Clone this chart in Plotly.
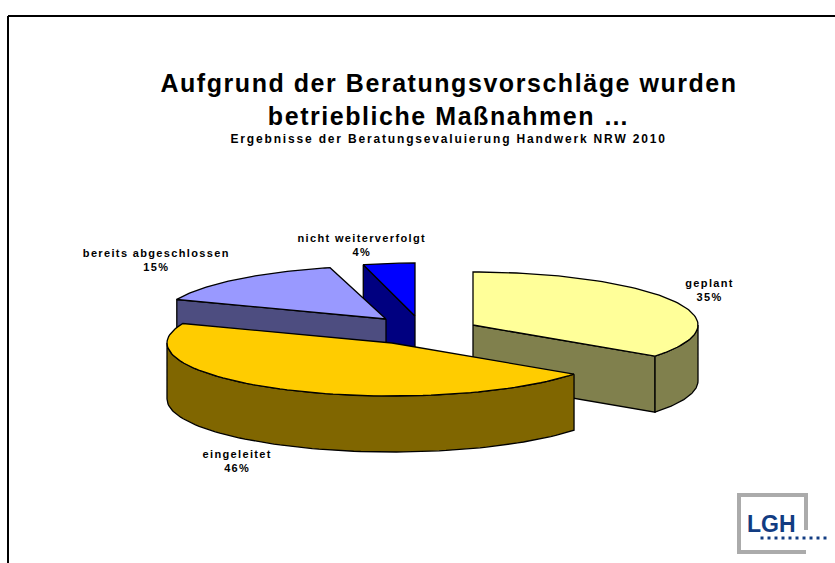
import numpy as np
import plotly.graph_objects as go

categories = ["geplant", "eingeleitet", "bereits abgeschlossen", "nicht weiterverfolgt"]
shares = [35, 46, 15, 4]
top_colors = ["#FFFF99", "#FFCC00", "#9999FF", "#0000FF"]
side_colors = ["#80804D", "#806600", "#4D4D80", "#000080"]

# Projection of the tilted pie onto the canvas (axis units equal pixels)
RX, RY, DEPTH = 225, 53, 56
centers = {0: (473, 325), 1: (392, 343), 2: (386, 319), 3: (415, 316)}
label_pos = {0: (709, 289.5), 1: (237.5, 460.5), 2: (156.5, 260), 3: (362, 245)}

cum = np.concatenate([[0], np.cumsum(shares)]) / sum(shares) * 2 * np.pi


def pt(i, a, dz=0, rx=RX):
    cx, cy = centers[i]
    return cx + rx * np.sin(a), cy - RY * np.cos(a) + dz


def arc(i, a0, a1, dz=0, rx=RX):
    t = np.linspace(a0, a1, 80)
    return pt(i, t, dz, rx)


def poly(xs, ys, color, name):
    return go.Scatter(
        x=list(xs), y=list(ys), mode="lines", fill="toself", fillcolor=color,
        line=dict(color="black", width=1.3), name=name, hoverinfo="name", showlegend=False,
    )


def top_face(i, rx=RX):
    ax, ay = arc(i, cum[i], cum[i + 1], rx=rx)
    cx, cy = centers[i]
    return poly(np.r_[cx, ax, cx], np.r_[cy, ay, cy], top_colors[i], categories[i])


def outer_side(i, a0, a1):
    x0, y0 = arc(i, a0, a1)
    x1, y1 = arc(i, a1, a0, DEPTH)
    return poly(np.r_[x0, x1, x0[0]], np.r_[y0, y1, y0[0]], side_colors[i], categories[i])


def cut_face(i, a, rx=RX):
    cx, cy = centers[i]
    ex, ey = pt(i, a, rx=rx)
    return poly([cx, ex, ex, cx, cx], [cy, ey, ey + DEPTH, cy + DEPTH, cy], side_colors[i], categories[i])


fig = go.Figure()
# painter's order: back to front
fig.add_trace(cut_face(0, cum[1]))
fig.add_trace(outer_side(0, np.pi / 2, cum[1]))
fig.add_trace(top_face(0))
fig.add_trace(cut_face(3, cum[3], rx=208))
fig.add_trace(top_face(3, rx=208))
fig.add_trace(cut_face(2, cum[2]))
fig.add_trace(top_face(2))
fig.add_trace(outer_side(1, cum[1], 3 * np.pi / 2))
fig.add_trace(top_face(1))

# LGH logo dots
fig.add_trace(go.Scatter(
    x=np.linspace(762, 825, 10), y=[538] * 10, mode="markers",
    marker=dict(symbol="square", size=3, color="#123C82"), hoverinfo="skip", showlegend=False,
))

annotations = []
for i, c in enumerate(categories):
    annotations.append(dict(
        x=label_pos[i][0], y=label_pos[i][1], text=f"{c}<br>{shares[i]}%", showarrow=False,
        xanchor="center", yanchor="middle",
        font=dict(family="Liberation Sans", size=11, color="black", weight="bold"),
    ))
annotations.append(dict(
    x=449, y=139, text="Ergebnisse der Beratungsevaluierung Handwerk NRW 2010", showarrow=False,
    xanchor="center", yanchor="middle",
    font=dict(family="Liberation Sans", size=12, color="black", weight="bold"),
))
annotations.append(dict(
    x=771, y=524, text="<b>LGH</b>", showarrow=False, xanchor="center", yanchor="middle",
    font=dict(family="Liberation Sans", size=23, color="#123C82"),
))

shapes = [
    dict(type="line", x0=8, x1=835, y0=16, y1=16, line=dict(color="black", width=2)),
    dict(type="line", x0=8, x1=8, y0=16, y1=563, line=dict(color="black", width=2)),
    dict(type="path", path="M 806 530 L 806 495 L 739 495 L 739 552 L 806 552",
         line=dict(color="#ABABAB", width=4)),
]

fig.update_layout(
    width=835, height=563, margin=dict(l=0, r=0, t=0, b=0),
    paper_bgcolor="white", plot_bgcolor="white", showlegend=False,
    title=dict(
        text="<b>Aufgrund der Beratungsvorschläge wurden<br>betriebliche Maßnahmen …</b>",
        x=449 / 835, xanchor="center", y=1 - 92 / 563, yanchor="middle",
        font=dict(family="Liberation Sans", size=25, color="black"),
    ),
    xaxis=dict(range=[0, 835], visible=False, fixedrange=True),
    yaxis=dict(range=[563, 0], visible=False, fixedrange=True),
    annotations=annotations, shapes=shapes,
)

css = """
document.body.style.margin='0';
var s=document.createElement('style');
s.textContent=".gtitle{letter-spacing:1.55px}"
+".annotation[data-index='0'] text,.annotation[data-index='1'] text,"
+".annotation[data-index='2'] text,.annotation[data-index='3'] text{letter-spacing:1.35px}"
+".annotation[data-index='4'] text{letter-spacing:1.83px}";
document.head.appendChild(s);
"""
fig.write_html("out.html", post_script=css, config=dict(displayModeBar=False))
